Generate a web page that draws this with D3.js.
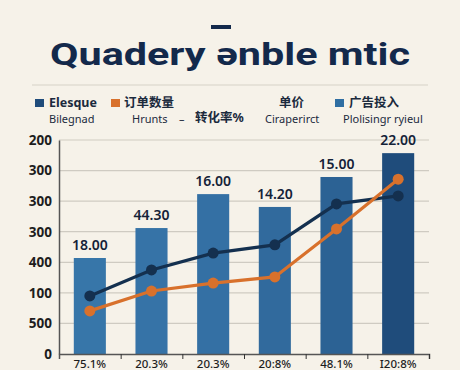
<!DOCTYPE html>
<html lang="zh">
  <head>
    <meta charset="utf-8">
    <title>Quadery enble mtic</title>
    <script src="https://cdn.jsdelivr.net/npm/d3@7/dist/d3.min.js"></script>
    <style>
      html, body { margin: 0; padding: 0; background: #f6f2e9; }
      svg { display: block; font-family: "Noto Sans", "Noto Sans CJK SC", sans-serif; }
    </style>
  </head>
  <body>
    <div id="chart"></div>
    <script>

// data
var categories = ["75.1%", "20.3%", "20.3%", "20:8%", "48.1%", "I20:8%"];
var barValues  = [314, 412, 523, 481, 579, 657];
var barLabels  = ["18.00", "44.30", "16.00", "14.20", "15.00", "22.00"];
var darkLine   = [190, 275, 330, 357, 491, 517];
var orangeLine = [141, 206, 232, 252, 409, 572];
var yTicks     = [0, 100, 200, 300, 400, 500, 600, 700];
var yTickText  = ["0", "500", "100", "400", "300", "300", "300", "200"];

var barColors  = ["#3776a9", "#3673a7", "#3470a4", "#316a9d", "#2c6294", "#1f4c7b"];
var navy = "#14304f", orange = "#d8712c";

var width = 460, height = 370;
var margin = {top: 140, right: 31, bottom: 16, left: 59};

var svg = d3.select("#chart").append("svg")
    .attr("width", width)
    .attr("height", height);

svg.append("rect").attr("width", width).attr("height", height).attr("fill", "#f6f2e9");

// title
svg.append("rect")
    .attr("x", 211).attr("y", 25).attr("width", 20).attr("height", 4)
    .attr("fill", "#13294b");
svg.append("text")
    .attr("x", 230).attr("y", 65)
    .attr("text-anchor", "middle")
    .attr("font-family", "Roboto, sans-serif")
    .attr("font-size", 31).attr("font-weight", 700)
    .attr("fill", "#13294b")
    .attr("textLength", 360).attr("lengthAdjust", "spacingAndGlyphs")
    .text("Quadery \u0259nble mtic");

svg.append("line")
    .attr("x1", 32).attr("x2", 428).attr("y1", 85).attr("y2", 85)
    .attr("stroke", "#d6d2c8").attr("stroke-width", 1.2);

// legend
var legendTop = [
  {x: 35, sq: "#1f4c7b", text: "Elesque", tx: 49},
  {x: 111, sq: orange, text: "订单数量", tx: 124},
  {x: null, sq: null, text: "单价", tx: 279},
  {x: 335, sq: "#2f6ea2", text: "广告投入", tx: 349}
];
var legendBottom = [
  {text: "Bilegnad", tx: 49, y: 123, bold: false},
  {text: "Hrunts", tx: 132, y: 123, bold: false},
  {text: "\u2013", tx: 179, y: 123, bold: false},
  {text: "转化率%", tx: 195, y: 122, bold: true},
  {text: "Ciraperirct", tx: 265, y: 123, bold: false},
  {text: "Plolisingr ryieul", tx: 343, y: 123, bold: false}
];

legendTop.forEach(function(d) {
  if (d.sq) {
    svg.append("rect").attr("x", d.x).attr("y", 99).attr("width", 9).attr("height", 8)
      .attr("fill", d.sq);
  }
  svg.append("text").attr("x", d.tx).attr("y", 107)
    .attr("font-size", 12.5).attr("font-weight", 700).attr("fill", "#1b2a3d")
    .text(d.text);
});
legendBottom.forEach(function(d) {
  svg.append("text").attr("x", d.tx).attr("y", d.y)
    .attr("font-size", d.bold ? 12.5 : 11).attr("font-weight", d.bold ? 700 : 400)
    .attr("fill", "#1b2a3d")
    .text(d.text);
});

// plot
var g = svg.append("g").attr("transform", "translate(" + margin.left + "," + margin.top + ")");
var w = width - margin.left - margin.right;   // 370
var h = height - margin.top - margin.bottom;  // 214

var x = d3.scaleBand().domain(d3.range(categories.length)).range([0, w]).paddingInner(0.48).paddingOuter(0.24);
var xc = function(i) { return x(i) + x.bandwidth() / 2; };
var y = d3.scaleLinear().domain([0, 700]).range([h, 0]);

// gridlines
g.selectAll(".grid").data(yTicks.slice(1)).enter().append("line")
    .attr("x1", 0).attr("x2", w)
    .attr("y1", function(d) { return y(d); }).attr("y2", function(d) { return y(d); })
    .attr("stroke", "#cfcbc2").attr("stroke-width", 1.2);

// bars
g.selectAll(".bar").data(barValues).enter().append("rect")
    .attr("x", function(d, i) { return x(i); })
    .attr("y", function(d) { return y(d); })
    .attr("width", x.bandwidth())
    .attr("height", function(d) { return h - y(d); })
    .attr("fill", function(d, i) { return barColors[i]; });

g.selectAll(".blabel").data(barValues).enter().append("text")
    .attr("x", function(d, i) { return xc(i); })
    .attr("y", function(d) { return y(d) - 8; })
    .attr("text-anchor", "middle")
    .attr("font-size", 14).attr("font-weight", 600).attr("fill", "#142238")
    .text(function(d, i) { return barLabels[i]; });

// lines
function drawLine(vals, color) {
  var line = d3.line().x(function(d, i) { return xc(i); }).y(function(d) { return y(d); });
  g.append("path").datum(vals).attr("d", line)
    .attr("fill", "none").attr("stroke", color).attr("stroke-width", 3.2);
  g.selectAll(null).data(vals).enter().append("circle")
    .attr("cx", function(d, i) { return xc(i); })
    .attr("cy", function(d) { return y(d); })
    .attr("r", 5.5).attr("fill", color);
}
drawLine(darkLine, navy);
drawLine(orangeLine, orange);

// axes
var yAxis = d3.axisLeft(y).tickValues(yTicks).tickSize(0).tickPadding(7)
    .tickFormat(function(d, i) { return yTickText[i]; });
var ya = g.append("g").call(yAxis);
ya.select(".domain").attr("stroke", "#555").attr("stroke-width", 1.5);
ya.selectAll("text").attr("font-size", 13.5).attr("font-weight", 700).attr("fill", "#1d1d1d")
  .attr("font-family", "Noto Sans, sans-serif");

var xAxis = d3.axisBottom(d3.scaleLinear().domain([0, categories.length]).range([0, w]))
    .tickValues(d3.range(1, categories.length + 1)).tickSize(5).tickFormat("");
var xa = g.append("g").attr("transform", "translate(0," + h + ")").call(xAxis);
xa.select(".domain").attr("stroke", "#555").attr("stroke-width", 1.5);
xa.selectAll("line").attr("stroke", "#333");

g.selectAll(".xlabel").data(categories).enter().append("text")
    .attr("x", function(d, i) { return xc(i); })
    .attr("y", h + 14)
    .attr("text-anchor", "middle")
    .attr("font-size", 11.5).attr("font-weight", 500).attr("fill", "#1d1d1d")
    .text(function(d) { return d; });

    </script>
  </body>
</html>
